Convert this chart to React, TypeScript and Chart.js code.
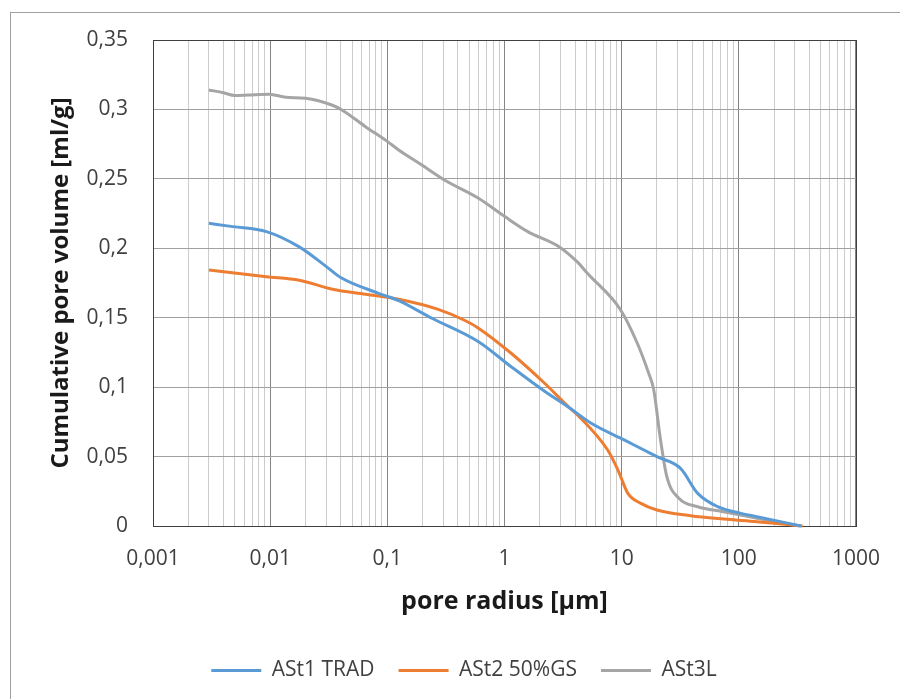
import React, { useEffect, useRef } from "react";
import { Chart, registerables } from "chart.js";

Chart.register(...registerables);

// ---- axis ticks ----
const X_MAJOR = [0.001, 0.01, 0.1, 1, 10, 100, 1000];
const X_MAJOR_LABELS = ["0,001", "0,01", "0,1", "1", "10", "100", "1000"];
const X_MINOR_STEPS = [2, 3, 4, 5, 6, 7, 8, 9];
const Y_TICKS = [0, 0.05, 0.1, 0.15, 0.2, 0.25, 0.3, 0.35];
const Y_TICK_LABELS = ["0", "0,05", "0,1", "0,15", "0,2", "0,25", "0,3", "0,35"];

// ---- series ----
const SERIES_NAMES = ["ASt1 TRAD", "ASt2 50%GS", "ASt3L"];
const SERIES_COLORS = ["#5b9bd5", "#ed7d31", "#a5a5a5"];

const AST1_R = [0.003, 0.0048, 0.0093, 0.0177, 0.03, 0.04, 0.084, 0.125, 0.24, 0.6, 1.14, 2.2, 3.6, 5.5, 10.5, 20, 31.8, 44.6, 66, 104, 143, 340];
const AST1_V = [0.218, 0.2156, 0.212, 0.201, 0.187, 0.179, 0.1676, 0.1623, 0.1496, 0.1327, 0.1147, 0.097, 0.085, 0.074, 0.062, 0.05, 0.0415, 0.0235, 0.0139, 0.0091, 0.0067, 0];

const AST2_R = [0.003, 0.0093, 0.0177, 0.034, 0.065, 0.125, 0.272, 0.46, 0.6, 1.14, 2.2, 3.6, 4.2, 7.6, 9.3, 11.3, 14.6, 20, 38.7, 74, 143, 350];
const AST2_V = [0.1844, 0.1795, 0.177, 0.1705, 0.1669, 0.1633, 0.156, 0.148, 0.1425, 0.1244, 0.1028, 0.085, 0.08, 0.0547, 0.0403, 0.0235, 0.0163, 0.0115, 0.0074, 0.005, 0.0031, 0];

const AST3_R = [0.003, 0.004, 0.005, 0.0065, 0.0098, 0.0136, 0.02, 0.034, 0.041, 0.065, 0.1, 0.125, 0.197, 0.31, 0.6, 1.0, 1.58, 2.94, 4.2, 5.1, 9.8, 13.6, 17, 18.8, 21.3, 24.3, 30.8, 44.6, 74, 143, 330];
const AST3_V = [0.314, 0.312, 0.31, 0.3104, 0.311, 0.3087, 0.308, 0.303, 0.2996, 0.2876, 0.277, 0.2708, 0.26, 0.249, 0.236, 0.223, 0.212, 0.201, 0.19, 0.182, 0.1556, 0.1316, 0.11, 0.098, 0.064, 0.0355, 0.02, 0.0139, 0.0103, 0.0055, 0];

const SERIES_R = [AST1_R, AST2_R, AST3_R];
const SERIES_V = [AST1_V, AST2_V, AST3_V];

const FONT = "'Open Sans', 'DejaVu Sans', sans-serif";

const isDecade = (v: number) => {
  const l = Math.log10(v);
  return Math.abs(l - Math.round(l)) < 1e-6;
};

const framePlugin = {
  id: "frame",
  beforeDatasetsDraw(chart: any) {
    const { ctx, chartArea } = chart;
    ctx.save();
    ctx.strokeStyle = "#404040";
    ctx.lineWidth = 1;
    ctx.strokeRect(
      Math.round(chartArea.left) + 0.5,
      Math.round(chartArea.top) + 0.5,
      Math.round(chartArea.right - chartArea.left),
      Math.round(chartArea.bottom - chartArea.top)
    );
    ctx.restore();
  },
};

export default function App() {
  const ref = useRef<HTMLCanvasElement | null>(null);

  useEffect(() => {
    if (!ref.current) return;
    const xTickValues: number[] = [];
    X_MAJOR.forEach((d, i) => {
      xTickValues.push(d);
      if (i < X_MAJOR.length - 1) X_MINOR_STEPS.forEach((s) => xTickValues.push(d * s));
    });
    xTickValues.sort((a, b) => a - b);

    const chart = new Chart(ref.current, {
      type: "line",
      data: {
        datasets: SERIES_NAMES.map((name, i) => ({
          label: name,
          data: SERIES_R[i].map((r, j) => ({ x: r, y: SERIES_V[i][j] })),
          borderColor: SERIES_COLORS[i],
          backgroundColor: SERIES_COLORS[i],
          borderWidth: 3,
          pointRadius: 0,
          pointHoverRadius: 0,
          cubicInterpolationMode: "monotone" as const,
          fill: false,
          clip: false as any,
        })),
      },
      options: {
        animation: false,
        responsive: false,
        layout: { padding: { left: 68, right: 40, top: 40, bottom: 8 } },
        plugins: {
          tooltip: { enabled: false },
          legend: {
            position: "bottom",
            labels: {
              usePointStyle: true,
              pointStyle: "line",
              pointStyleWidth: 50,
              padding: 24,
              color: "#404040",
              font: { family: FONT, size: 21 },
            },
          },
        },
        scales: {
          x: {
            type: "logarithmic",
            min: 0.001,
            max: 1000,
            afterBuildTicks: (scale: any) => {
              scale.ticks = xTickValues.map((v) => ({ value: v, major: isDecade(v) }));
            },
            afterFit: (scale: any) => {
              scale.height = 110;
            },
            ticks: {
              autoSkip: false,
              maxRotation: 0,
              minRotation: 0,
              padding: 20,
              color: "#404040",
              font: { family: FONT, size: 21 },
              callback: (value: any) => {
                const v = Number(value);
                const idx = X_MAJOR.findIndex((d) => Math.abs(d - v) / d < 1e-6);
                return idx >= 0 ? X_MAJOR_LABELS[idx] : "";
              },
            },
            grid: {
              drawTicks: false,
              color: (ctx: any) => (ctx.tick && isDecade(ctx.tick.value) ? "#858585" : "#cccccc"),
              lineWidth: 1,
            },
            border: { display: false },
            title: {
              display: true,
              text: "pore radius [µm]",
              color: "#1a1a1a",
              font: { family: FONT, size: 25, weight: "bold" },
              padding: { top: 0, bottom: 19 },
            },
          },
          y: {
            type: "linear",
            min: 0,
            max: 0.35,
            afterBuildTicks: (scale: any) => {
              scale.ticks = Y_TICKS.map((v) => ({ value: v }));
            },
            afterFit: (scale: any) => {
              scale.width = 85;
            },
            ticks: {
              padding: 25,
              color: "#404040",
              font: { family: FONT, size: 21 },
              callback: (value: any) => {
                const v = Number(value);
                const idx = Y_TICKS.findIndex((t) => Math.abs(t - v) < 1e-9);
                return idx >= 0 ? Y_TICK_LABELS[idx] : "";
              },
            },
            grid: { drawTicks: false, color: "#a0a0a0", lineWidth: 1 },
            border: { display: false },
            title: {
              display: true,
              text: "Cumulative pore volume [ml/g]",
              color: "#1a1a1a",
              font: { family: FONT, size: 24, weight: "bold" },
              padding: { top: -21, bottom: 0 },
            },
          },
        },
      } as any,
      plugins: [framePlugin],
    });
    return () => chart.destroy();
  }, []);

  return (
    <div
      style={{
        position: "fixed",
        left: 0,
        top: 0,
        width: 900,
        height: 699,
        background: "#ffffff",
        overflow: "hidden",
      }}
    >
      <div
        style={{
          position: "absolute",
          left: 10,
          top: 12,
          width: 1000,
          height: 1000,
          border: "1px solid #a0a0a0",
        }}
      />
      <canvas
        ref={ref}
        width={900}
        height={699}
        style={{ position: "absolute", left: 0, top: 0, width: 900, height: 699 }}
      />
    </div>
  );
}
